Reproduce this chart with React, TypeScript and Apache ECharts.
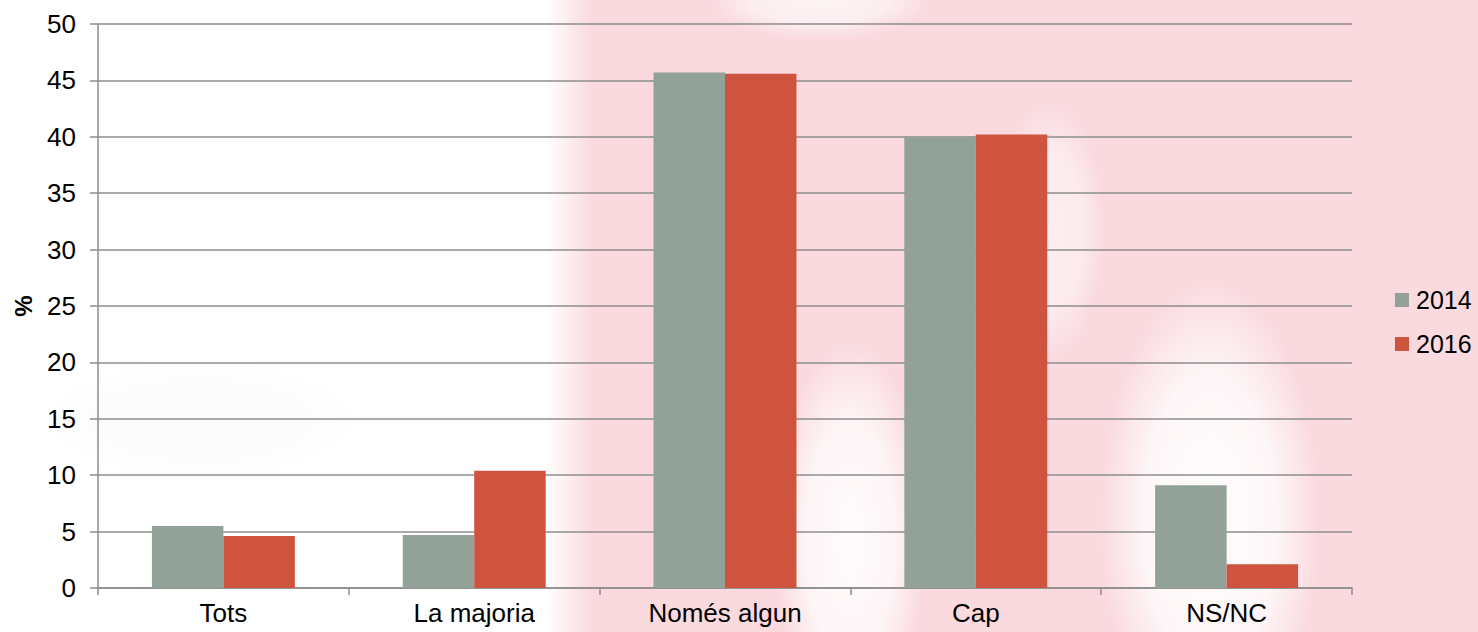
import React, { useEffect, useRef } from "react";
import * as echarts from "echarts";

const categories = ["Tots", "La majoria", "Només algun", "Cap", "NS/NC"];
const series2014 = [5.5, 4.7, 45.7, 40.0, 9.1];
const series2016 = [4.6, 10.4, 45.6, 40.2, 2.1];
const seriesNames = ["2014", "2016"];

function softSpot(cx: number, cy: number, rx: number, ry: number, rgb: string, a: number) {
  return {
    type: "ellipse",
    z: -9,
    silent: true,
    shape: { cx, cy, rx, ry },
    style: {
      fill: new echarts.graphic.RadialGradient(0.5, 0.5, 0.5, [
        { offset: 0, color: `rgba(${rgb},${a})` },
        { offset: 0.6, color: `rgba(${rgb},${a * 0.8})` },
        { offset: 1, color: `rgba(${rgb},0)` },
      ]),
    },
  };
}

export default function App() {
  const ref = useRef<HTMLDivElement>(null);
  useEffect(() => {
    if (!ref.current) return;
    const chart = echarts.init(ref.current, null, { renderer: "svg" });
    const font = "Liberation Sans, Arial, sans-serif";
    chart.setOption({
      animation: false,
      backgroundColor: "#ffffff",
      graphic: [
        {
          type: "rect",
          z: -10,
          silent: true,
          shape: { x: 545, y: 0, width: 933, height: 632 },
          style: {
            fill: new echarts.graphic.LinearGradient(0, 0, 1, 0, [
              { offset: 0, color: "rgba(250,218,223,0)" },
              { offset: 0.05, color: "rgba(250,218,223,1)" },
              { offset: 1, color: "rgba(250,218,223,1)" },
            ]),
          },
        },
        softSpot(850, 540, 75, 200, "255,255,255", 0.9),
        softSpot(1210, 520, 110, 240, "255,255,255", 0.95),
        softSpot(1050, 230, 55, 130, "255,255,255", 0.55),
        softSpot(820, 0, 110, 40, "255,255,255", 0.7),
        softSpot(200, 420, 160, 60, "200,200,200", 0.07),
      ],
      grid: { left: 98, right: 126, top: 24, bottom: 44, containLabel: false },
      legend: {
        orient: "vertical",
        left: 1395,
        top: 287,
        padding: 0,
        itemWidth: 14,
        itemHeight: 14,
        itemGap: 18,
        icon: "rect",
        textStyle: { fontFamily: font, fontSize: 25, lineHeight: 26, color: "#000", padding: [0, 0, 0, 2] },
        data: seriesNames,
      },
      xAxis: {
        type: "category",
        data: categories,
        axisLine: { lineStyle: { color: "#8c8c8c", width: 1.5 } },
        axisTick: { show: true, length: 7, lineStyle: { color: "#8c8c8c", width: 1.5 } },
        axisLabel: { fontFamily: font, fontSize: 26, color: "#000", margin: 12 },
      },
      yAxis: {
        type: "value",
        min: 0,
        max: 50,
        interval: 5,
        name: "%",
        nameLocation: "middle",
        nameGap: 63,
        nameRotate: 90,
        nameTextStyle: { fontFamily: font, fontSize: 24, fontWeight: "bold", color: "#000" },
        axisLine: { show: true, lineStyle: { color: "#8c8c8c", width: 1.5 } },
        axisTick: { show: true, length: 8, lineStyle: { color: "#8c8c8c", width: 1.5 } },
        axisLabel: { fontFamily: font, fontSize: 26, color: "#000", margin: 22 },
        splitLine: { lineStyle: { color: "#8c8c8c", width: 1.5 } },
      },
      series: [
        {
          name: seriesNames[0],
          type: "bar",
          data: series2014,
          barGap: "0%",
          barCategoryGap: "43%",
          itemStyle: { color: "#93A298" },
        },
        {
          name: seriesNames[1],
          type: "bar",
          data: series2016,
          barGap: "0%",
          barCategoryGap: "43%",
          itemStyle: { color: "#CF543F" },
        },
      ],
    });
    return () => chart.dispose();
  }, []);
  return <div ref={ref} style={{ width: 1478, height: 632, position: "absolute", left: 0, top: 0 }} />;
}
